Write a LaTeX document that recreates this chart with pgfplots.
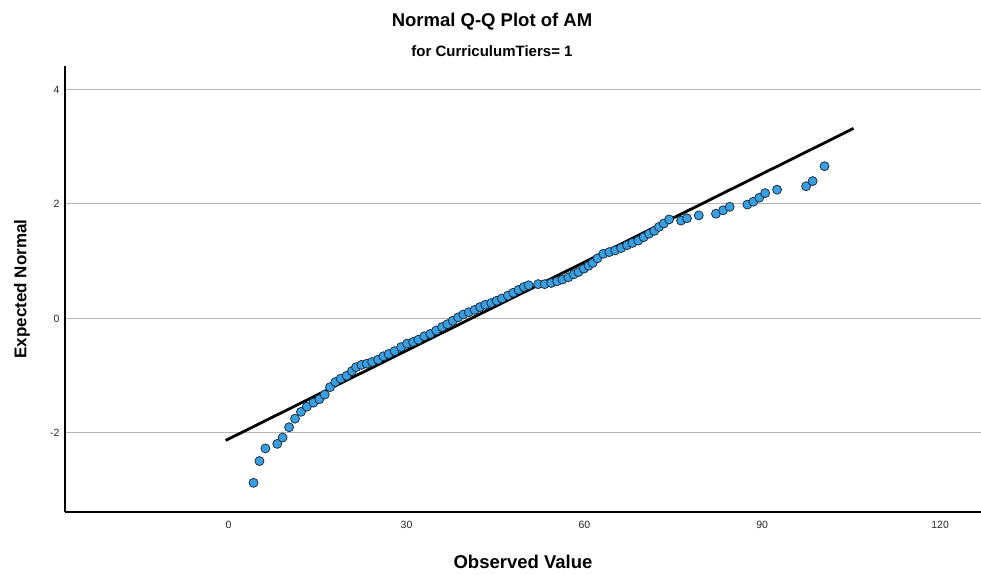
\documentclass[border=0pt]{standalone}
\usepackage{fontspec}
\setmainfont{Liberation Sans}
\usepackage{pgfplots}
\pgfplotsset{compat=1.18}
\definecolor{ptfill}{HTML}{3A9FE0}
\definecolor{ptedge}{HTML}{1B2F45}
\definecolor{gridc}{HTML}{B4B4B4}
\begin{document}
\begin{tikzpicture}
\useasboundingbox (-65pt,-62pt) rectangle (916pt,512pt);
\begin{axis}[at={(0pt,0pt)}, anchor=south west, scale only axis,
 width=916pt, height=446pt,
 xmin=-27.6, xmax=126.9, ymin=-3.38, ymax=4.41,
 axis x line*=bottom, axis y line*=left,
 axis line style={line width=1.5pt, -},
 xtick={0,30,60,90,120}, ytick={-2,0,2,4},
 major tick length=0pt,
 ymajorgrids, grid style={gridc, line width=1pt},
 ticklabel style={font=\fontsize{10.5}{12}\selectfont, text=black!85},
 /pgf/number format/assume math mode=true,
 xticklabel style={yshift=-6pt},
 yticklabel style={xshift=-2pt},
 xlabel={Observed Value}, ylabel={Expected Normal},
 xlabel style={font=\bfseries\fontsize{18.5}{20}\selectfont, at={(axis description cs:0.5,-0.112)}, anchor=center},
 ylabel style={font=\bfseries\fontsize{17}{20}\selectfont, at={(axis description cs:-0.047,0.5)}, anchor=center},
 clip=false]
\addplot[black, line width=2.8pt] coordinates {(-0.5,-2.13) (105.4,3.32)};
\addplot[only marks, mark=*, mark size=4.5pt, mark options={fill=ptfill, draw=ptedge, line width=0.8pt}] coordinates {
(4.2,-2.87) (5.2,-2.49) (6.2,-2.27) (8.2,-2.19) (9.1,-2.08) (10.2,-1.90)
(11.2,-1.75) (12.2,-1.63) (13.2,-1.54) (14.3,-1.47) (15.3,-1.41) (16.2,-1.33)
(17.1,-1.20) (18.0,-1.11) (18.9,-1.05) (19.9,-1.00) (20.8,-0.92) (21.5,-0.85)
(22.4,-0.81) (23.3,-0.79) (24.2,-0.76) (25.2,-0.72) (26.1,-0.66) (27.0,-0.62)
(28.0,-0.57) (29.1,-0.50) (30.1,-0.44) (31.1,-0.41) (32.0,-0.37) (33.0,-0.31)
(34.0,-0.27) (35.0,-0.21) (36.0,-0.15) (36.9,-0.10) (37.8,-0.04) (38.7,0.02)
(39.6,0.07) (40.5,0.11) (41.5,0.15) (42.4,0.20) (43.3,0.24) (44.3,0.27)
(45.2,0.31) (46.1,0.35) (47.1,0.40) (48.0,0.45) (48.9,0.50) (49.8,0.55)
(50.6,0.58) (52.2,0.60) (53.3,0.60) (54.4,0.62) (55.4,0.65) (56.3,0.68)
(57.3,0.72) (58.2,0.77) (59.0,0.81) (59.9,0.87) (60.7,0.92) (61.4,0.97)
(62.2,1.05) (63.2,1.13) (64.2,1.16) (65.2,1.19) (66.2,1.23) (67.2,1.28)
(68.1,1.32) (69.1,1.36) (70.0,1.42) (70.9,1.48) (71.8,1.53) (72.6,1.60)
(73.4,1.66) (74.3,1.73) (76.3,1.71) (77.3,1.75) (79.3,1.80) (82.2,1.83)
(83.4,1.89) (84.5,1.95) (87.5,1.99) (88.5,2.04) (89.5,2.11) (90.5,2.19)
(92.5,2.25) (97.4,2.31) (98.5,2.40) (100.5,2.66)
};
\end{axis}
\node[anchor=base, font=\bfseries\fontsize{18.5}{20}\selectfont] at (427pt,485pt) {Normal Q-Q Plot of AM};
\node[anchor=base, font=\bfseries\fontsize{15}{17}\selectfont] at (427pt,455pt) {for CurriculumTiers= 1};
\end{tikzpicture}
\end{document}
